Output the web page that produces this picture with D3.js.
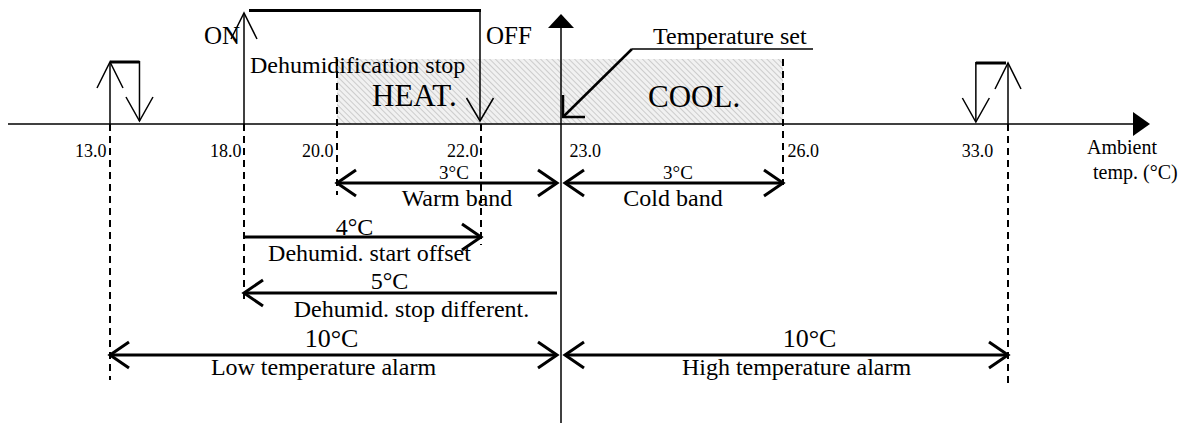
<!DOCTYPE html>
<html>
<head>
<meta charset="utf-8">
<script src="https://cdn.jsdelivr.net/npm/d3@7"></script>
<style>
  html, body { margin: 0; padding: 0; background: #fff; }
  svg { display: block; }
  text { font-family: "Liberation Serif", "Times New Roman", serif; fill: #000; }
</style>
</head>
<body>
<div id="chart"></div>
<script>
// ---------------- data ----------------
const tickValues = [13, 18, 20, 22, 23, 26, 33];
const tickLabels = ["13.0", "18.0", "20.0", "22.0", "23.0", "26.0", "33.0"];
const setpoint = 23;
const heatBand = [20, 23];
const coolBand = [23, 26];
const dehumidOn = 18;
const dehumidOff = 22;
const lowAlarmOn = 13;
const lowAlarmOff = 14.1;
const highAlarmOn = 33;
const highAlarmOff = 32;
const spanFrom = [20, 23, 18, 23, 13, 23];
const spanTo = [23, 26, 22, 18, 23, 33];
const spanValues = ["3°C", "3°C", "4°C", "5°C", "10°C", "10°C"];
const spanNames = ["Warm band", "Cold band", "Dehumid. start offset", "Dehumid. stop different.", "Low temperature alarm", "High temperature alarm"];
const spanHeads = ["both", "both", "end", "end", "both", "both"];

// ---------------- layout ----------------
const W = 1190, H = 423;
const axisY = 124;
const x = d3.scaleLinear().domain(tickValues).range([110, 244, 337, 481, 561, 783, 1008]);
const spanRowY = [183, 183, 237, 293, 355, 355];
const valueDy = [-4, -4, -2, -4, -8, -8];
const valueSize = [19, 19, 24, 24, 26, 26];
const valueDx = [7, 4, -8, -11, -2, 23];
const nameDy = [23, 23, 24, 24, 20, 20];
const nameDx = [10, -1, 7, 11, -10, 10];
const tickAnchor = ["end", "end", "end", "end", "start", "start", "middle"];
const tickDx = [-4, -3, -4, -3, 8, 4, -31];

const svg = d3.select("#chart").append("svg").attr("width", W).attr("height", H);

const defs = svg.append("defs");
const pat = defs.append("pattern").attr("id", "hatch").attr("patternUnits", "userSpaceOnUse")
  .attr("width", 4).attr("height", 4).attr("patternTransform", "rotate(-45)");
pat.append("rect").attr("width", 4).attr("height", 4).attr("fill", "#f1f1f1");
pat.append("line").attr("x1", 0).attr("y1", 0).attr("x2", 0).attr("y2", 4)
  .attr("stroke", "#bdbdbd").attr("stroke-width", 1.4);

function chevron(g, tx, ty, ux, uy, L, Wd, sw) {
  const nx = -uy, ny = ux;
  g.append("path")
    .attr("d", `M${tx - L * ux + Wd * nx},${ty - L * uy + Wd * ny} L${tx},${ty} L${tx - L * ux - Wd * nx},${ty - L * uy - Wd * ny}`)
    .attr("fill", "none").attr("stroke", "#000").attr("stroke-width", sw)
    .attr("stroke-linejoin", "miter");
}

// hatched HEAT/COOL area
svg.append("rect")
  .attr("x", x(heatBand[0])).attr("y", 59)
  .attr("width", x(coolBand[1]) - x(heatBand[0])).attr("height", axisY - 59)
  .attr("fill", "url(#hatch)");

// dashed reference lines
const dashes = [
  [13, axisY, 380], [18, axisY, 303], [20, 59, 195], [22, axisY, 245], [26, 59, 185], [33, axisY, 383]
];
svg.selectAll("line.dash").data(dashes).join("line").attr("class", "dash")
  .attr("x1", d => x(d[0])).attr("x2", d => x(d[0]))
  .attr("y1", d => d[1]).attr("y2", d => d[2])
  .attr("stroke", "#000").attr("stroke-width", 2).attr("stroke-dasharray", "7,5");

// horizontal axis
svg.append("line").attr("x1", 8).attr("x2", 1136).attr("y1", axisY).attr("y2", axisY)
  .attr("stroke", "#000").attr("stroke-width", 1.5);
svg.append("path").attr("d", `M1133,${axisY - 12} L1150,${axisY} L1133,${axisY + 12} Z`).attr("fill", "#000");

// vertical axis at setpoint
svg.append("line").attr("x1", x(setpoint)).attr("x2", x(setpoint)).attr("y1", 26).attr("y2", H)
  .attr("stroke", "#000").attr("stroke-width", 1.5);
svg.append("path").attr("d", `M${x(setpoint) - 13},28 L${x(setpoint)},14 L${x(setpoint) + 13},28 Z`).attr("fill", "#000");

// axis tick labels
const axisG = svg.append("g").attr("transform", `translate(0,${axisY})`)
  .call(d3.axisBottom(x).tickValues(tickValues).tickSize(0).tickFormat((d, i) => tickLabels[i]));
axisG.select(".domain").remove();
axisG.selectAll(".tick text")
  .attr("font-family", "Liberation Serif, Times New Roman, serif")
  .attr("font-size", 18).attr("fill", "#000")
  .attr("y", 33).attr("dy", 0)
  .attr("text-anchor", (d, i) => tickAnchor[i])
  .attr("dx", (d, i) => tickDx[i]);

svg.append("text").attr("x", 1087).attr("y", 154).attr("font-size", 20).text("Ambient");
svg.append("text").attr("x", 1093).attr("y", 179).attr("font-size", 20).text("temp. (°C)");

// relay symbols
const relay = svg.append("g");
function vArrow(xp, yFrom, yTo) {
  relay.append("line").attr("x1", xp).attr("x2", xp).attr("y1", yFrom).attr("y2", yTo)
    .attr("stroke", "#000").attr("stroke-width", 1.5);
  const dir = yTo < yFrom ? -1 : 1;
  chevron(relay, xp, yTo, 0, dir, 26, 13, 1.5);
}
function topBar(x1, x2, y) {
  relay.append("line").attr("x1", x1).attr("x2", x2).attr("y1", y).attr("y2", y)
    .attr("stroke", "#000").attr("stroke-width", 3);
}
// low alarm
vArrow(x(lowAlarmOn), axisY, 62);
topBar(x(lowAlarmOn), x(lowAlarmOff), 62);
relay.append("line").attr("x1", x(lowAlarmOff)).attr("x2", x(lowAlarmOff)).attr("y1", 61).attr("y2", 121)
  .attr("stroke", "#000").attr("stroke-width", 1.5);
chevron(relay, x(lowAlarmOff), 121, 0, 1, 24, 13.5, 1.5);
// high alarm
vArrow(x(highAlarmOn), axisY, 63);
topBar(x(highAlarmOff), x(highAlarmOn) - 2, 63);
relay.append("line").attr("x1", x(highAlarmOff)).attr("x2", x(highAlarmOff)).attr("y1", 62).attr("y2", 122)
  .attr("stroke", "#000").attr("stroke-width", 1.5);
chevron(relay, x(highAlarmOff), 122, 0, 1, 24, 13.5, 1.5);
// dehumidification
vArrow(x(dehumidOn), axisY, 13);
topBar(x(dehumidOn) + 5, x(dehumidOff), 10.5);
relay.append("line").attr("x1", x(dehumidOff) - 1).attr("x2", x(dehumidOff) - 1).attr("y1", 9).attr("y2", 121)
  .attr("stroke", "#000").attr("stroke-width", 1.5);
chevron(relay, x(dehumidOff) - 1, 121, 0, 1, 23, 13.5, 1.5);

svg.append("text").attr("x", x(dehumidOn) - 4).attr("y", 44).attr("text-anchor", "end").attr("font-size", 25).text("ON");
svg.append("text").attr("x", x(dehumidOff) + 5).attr("y", 44).attr("font-size", 25).text("OFF");
svg.append("text").attr("x", x(dehumidOn) + 6).attr("y", 73).attr("font-size", 24).text("Dehumidification stop");
svg.append("text").attr("x", 372).attr("y", 106).attr("font-size", 31).text("HEAT.");
svg.append("text").attr("x", 648).attr("y", 107).attr("font-size", 31).text("COOL.");

// temperature set callout
svg.append("text").attr("x", 653).attr("y", 44).attr("font-size", 24).text("Temperature set");
svg.append("line").attr("x1", 632).attr("x2", 813).attr("y1", 49).attr("y2", 49)
  .attr("stroke", "#000").attr("stroke-width", 1.5);
svg.append("line").attr("x1", 632).attr("y1", 49).attr("x2", x(setpoint) + 2).attr("y2", 117)
  .attr("stroke", "#000").attr("stroke-width", 2.5);
chevron(svg, x(setpoint) + 2, 117, -Math.SQRT1_2, Math.SQRT1_2, 22 * Math.SQRT1_2, 22 * Math.SQRT1_2, 2.5);

// dimension arrows
const dims = svg.append("g");
spanFrom.forEach((f, i) => {
  const t = spanTo[i];
  const y = spanRowY[i];
  const inset = v => (v === setpoint ? 4 : 0);
  const dirSign = t > f ? 1 : -1;
  const x1 = x(f) + dirSign * inset(f);
  const x2 = x(t) - dirSign * inset(t);
  dims.append("line").attr("x1", x1).attr("x2", x2).attr("y1", y).attr("y2", y)
    .attr("stroke", "#000").attr("stroke-width", 3);
  chevron(dims, x2, y, dirSign, 0, 19, 13, 3);
  if (spanHeads[i] === "both") chevron(dims, x1, y, -dirSign, 0, 19, 13, 3);
  const mid = (x1 + x2) / 2;
  dims.append("text").attr("x", mid + valueDx[i]).attr("y", y + valueDy[i])
    .attr("text-anchor", "middle").attr("font-size", valueSize[i]).text(spanValues[i]);
  dims.append("text").attr("x", mid + nameDx[i]).attr("y", y + nameDy[i])
    .attr("text-anchor", "middle").attr("font-size", 24).text(spanNames[i]);
});
</script>
</body>
</html>
